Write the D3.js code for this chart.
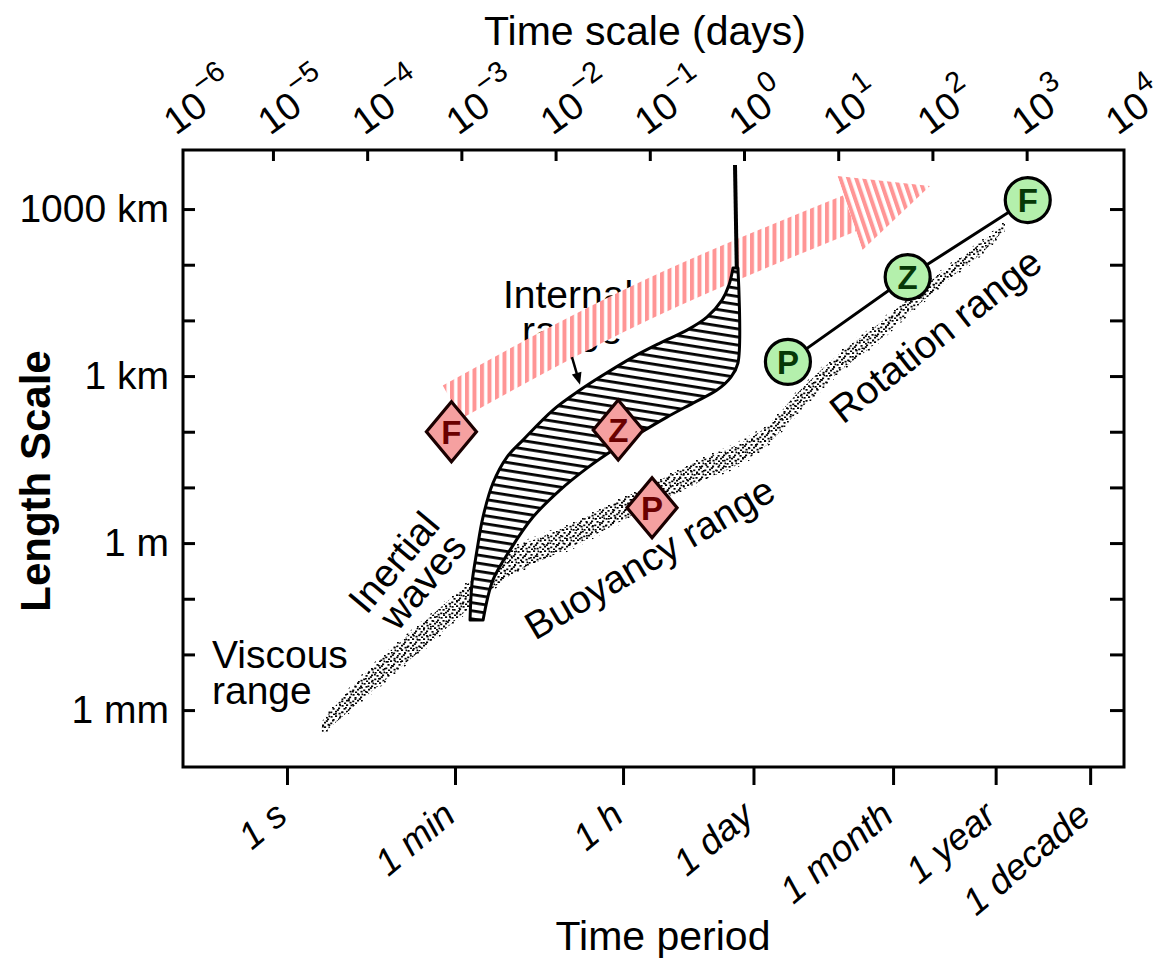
<!DOCTYPE html>
<html><head><meta charset="utf-8">
<script src="https://cdn.jsdelivr.net/npm/d3@7"></script>
<style>
html,body{margin:0;padding:0;background:#fff;}
svg{display:block;}
text{font-family:"Liberation Sans",Arial,Helvetica,sans-serif;fill:#000;}
</style></head><body>
<svg id="chart" width="1163" height="960"></svg>
<script>
// ================= DATA =================
// axis extents
const timeDomainSec = [0.0794, 7.2e8];      // bottom axis, period in seconds
const daysDomain = [1.11e-6, 1.08e4];        // top axis, days
const lengthDomainM = [9.5e-5, 1.15e7];      // length in metres

// tick labels
const bottomTickLabels = ["1 s", "1 min", "1 h", "1 day", "1 month", "1 year", "1 decade"];
const bottomTickSeconds = [1, 60, 3600, 86400, 2.592e6, 3.156e7, 3.156e8];
const topTickDays = [1e-6, 1e-5, 1e-4, 1e-3, 1e-2, 1e-1, 1e0, 1e1, 1e2, 1e3, 1e4];
const topTickExponents = ["\u22126", "\u22125", "\u22124", "\u22123", "\u22122", "\u22121", "0", "1", "2", "3", "4"];
const lengthTickValues = [1e-3, 1e-2, 1e-1, 1e0, 1e1, 1e2, 1e3, 1e4, 1e5, 1e6];
const lengthTickLabelValues = [1e-3, 1e0, 1e3, 1e6];
const lengthTickLabels = ["1 mm", "1 m", "1 km", "1000 km"];

// red diamonds
const redLabels = ["F", "Z", "P"];
const redPeriodSec = [55, 3200, 7300];
const redLengthM = [100, 107, 4.3];

// green circles (connected)
const greenLabels = ["P", "Z", "F"];
const greenPeriodSec = [2.0e5, 3.7e6, 6.9e7];
const greenLengthM = [1800, 6.0e4, 1.45e6];

// stippled band (viscous -> buoyancy -> rotation), centre line + half thickness (decades of length)
const bandPeriodSec = [2.34, 5.92, 15.7, 35.1, 80.4, 141, 259, 537, 1117, 2051, 4581, 10500, 23440, 55080, 114300, 268500, 711200, 1.589e6, 4.207e6, 1.038e7, 2.432e7, 3.963e7];
const bandLengthM = [4.75e-4, 2.29e-3, 9.73e-3, 0.031, 0.107, 0.235, 0.495, 0.847, 1.45, 2.48, 5.02, 10.1, 19.6, 36.6, 80.2, 371, 1782, 5012, 21330, 73790, 225400, 494300];
const bandHalfDecades = [0.12, 0.2, 0.23, 0.23, 0.23, 0.22, 0.22, 0.21, 0.2, 0.2, 0.19, 0.19, 0.19, 0.18, 0.17, 0.17, 0.16, 0.15, 0.13, 0.11, 0.09, 0.05];

// internal wave range (hatched): left/upper edge bottom->top, right/lower edge top->bottom
const hatchLeftPeriodSec = [86.5, 90.8, 102.6, 118.6, 151.4, 212.8, 314, 653, 1262, 2051, 4581, 8851, 17100, 27800, 40090, 47530, 52480];
const hatchLeftLengthM = [0.0414, 0.191, 0.748, 2.93, 12.0, 35.1, 70.8, 245, 560, 959, 2193, 3917, 6699, 11480, 23170, 43060, 87100];
const hatchRightPeriodSec = [59160, 59160, 49890, 35480, 19770, 10500, 5433, 2818, 1496, 774, 401, 229, 151, 119];
const hatchRightLengthM = [87100, 1710, 959, 560, 327, 183, 94.6, 46.9, 22.2, 8.95, 2.93, 0.748, 0.216, 0.0414];
// inertial limit line
const inertialPeriodSec = [55080, 57500];
const inertialLengthM = [6.2e6, 87100];

// big pink arrow: shaft start, shaft middle, head base, tip
const arrowPeriodSec = [55.7, 5433, 9.08e5, 6.37e6];
const arrowLengthM = [341, 20470, 8.47e5, 2.59e6];
// small pointer arrow under "Internal range"
const pointerPeriodSec = [1037, 1262];
const pointerLengthM = [2193, 700];

// ================= CHART =================
const svg = d3.select("#chart");
const L = 183, R = 1124, T = 150, B = 767;

const x = d3.scaleLog().domain(timeDomainSec).range([L, R]);
const xTop = d3.scaleLog().domain(daysDomain).range([L, R]);
const y = d3.scaleLog().domain(lengthDomainM).range([B, T]);

const defs = svg.append("defs");
// stipple patterns (dense core, sparse fringe)
const stip = defs.append("pattern").attr("id", "stipple").attr("patternUnits", "userSpaceOnUse")
  .attr("width", 11).attr("height", 11);
[[0.5,1],[5,0.3],[2.5,4],[8,3.5],[0.2,7.5],[5,6.8],[8.5,8.8],[3,9.5],[9.5,0.5],[6.8,5.2]].forEach(p =>
  stip.append("rect").attr("x", p[0]).attr("y", p[1]).attr("width", 2.1).attr("height", 1.7).attr("fill", "#000"));
const stip2 = defs.append("pattern").attr("id", "stipple2").attr("patternUnits", "userSpaceOnUse")
  .attr("width", 13).attr("height", 13);
[[1,2],[7,5],[3.5,9.5],[10,11]].forEach(p =>
  stip2.append("rect").attr("x", p[0]).attr("y", p[1]).attr("width", 1.8).attr("height", 1.5).attr("fill", "#000"));
// hatch pattern
const hatch = defs.append("pattern").attr("id", "hatch").attr("patternUnits", "userSpaceOnUse")
  .attr("width", 40).attr("height", 8).attr("patternTransform", "rotate(9)");
hatch.append("rect").attr("width", 40).attr("height", 8).attr("fill", "#fff");
hatch.append("rect").attr("y", 0).attr("width", 40).attr("height", 2.8).attr("fill", "#000");
// pink stripes
const stripes = defs.append("pattern").attr("id", "stripes").attr("patternUnits", "userSpaceOnUse")
  .attr("width", 7.5).attr("height", 10);
stripes.append("rect").attr("width", 7.5).attr("height", 10).attr("fill", "#fff");
stripes.append("rect").attr("width", 4).attr("height", 10).attr("fill", "#ff9595");

// ---- axes ----
const gB = svg.append("g").attr("transform", `translate(0,${B})`)
  .call(d3.axisBottom(x).tickValues(bottomTickSeconds).tickSize(18).tickFormat((d, i) => bottomTickLabels[i]));
gB.select(".domain").remove();
gB.selectAll(".tick line").attr("stroke", "#000").attr("stroke-width", 3);
gB.selectAll(".tick text")
  .attr("x", null).attr("y", null).attr("dy", null)
  .attr("text-anchor", "end")
  .attr("transform", "translate(2,52) rotate(-40)")
  .style("font-size", "37px").style("font-style", "italic")
  .style("font-family", '"Liberation Sans",Arial,sans-serif').attr("fill", "#000");

const gT = svg.append("g").attr("transform", `translate(0,${T})`)
  .call(d3.axisTop(xTop).tickValues(topTickDays.slice(1, -1)).tickSize(-11).tickFormat(""));
gT.select(".domain").remove();
gT.selectAll(".tick line").attr("stroke", "#000").attr("stroke-width", 3);

const topLab = svg.append("g").selectAll("text").data(topTickDays).join("text")
  .attr("text-anchor", "start")
  .attr("transform", d => `translate(${xTop(d) - 3},${T - 14}) rotate(-36)`)
  .style("font-size", "38px");
topLab.append("tspan").text("10");
topLab.append("tspan").attr("dy", -19).attr("dx", 2).style("font-size", "29px").text((d, i) => topTickExponents[i]);

const gL = svg.append("g").attr("transform", `translate(${L},0)`)
  .call(d3.axisLeft(y).tickValues(lengthTickValues).tickSize(-12).tickPadding(14)
    .tickFormat(d => { const k = lengthTickLabelValues.indexOf(d); return k >= 0 ? lengthTickLabels[k] : ""; }));
gL.select(".domain").remove();
gL.selectAll(".tick line").attr("stroke", "#000").attr("stroke-width", 3);
gL.selectAll(".tick text").style("font-size", "39px")
  .style("font-family", '"Liberation Sans",Arial,sans-serif').attr("fill", "#000");

const gR = svg.append("g").attr("transform", `translate(${R},0)`)
  .call(d3.axisRight(y).tickValues(lengthTickValues).tickSize(-14).tickFormat(""));
gR.select(".domain").remove();
gR.selectAll(".tick line").attr("stroke", "#000").attr("stroke-width", 3);

// frame
svg.append("rect").attr("x", L).attr("y", T).attr("width", R - L).attr("height", B - T)
  .attr("fill", "none").attr("stroke", "#000").attr("stroke-width", 3);

// titles
svg.append("text").attr("x", 645).attr("y", 45).attr("text-anchor", "middle").style("font-size", "41px").text("Time scale (days)");
svg.append("text").attr("x", 663).attr("y", 950).attr("text-anchor", "middle").style("font-size", "41px").text("Time period");
svg.append("text").attr("transform", "translate(50,481) rotate(-90)").attr("text-anchor", "middle")
  .style("font-size", "42px").style("font-weight", "bold").text("Length Scale");

// ---- stippled band ----
const lineGen = d3.line().curve(d3.curveCatmullRom.alpha(0.5));
function bandPath(extra) {
  const up = bandPeriodSec.map((p, i) => [x(p), y(bandLengthM[i] * Math.pow(10, bandHalfDecades[i] + extra))]);
  const lo = bandPeriodSec.map((p, i) => [x(p), y(bandLengthM[i] / Math.pow(10, bandHalfDecades[i] + extra))]).reverse();
  return lineGen(up) + "L" + lineGen(lo).slice(1) + "Z";
}
svg.append("path").attr("d", bandPath(0.05)).attr("fill", "url(#stipple2)");
svg.append("path").attr("d", bandPath(0)).attr("fill", "url(#stipple)");

// ---- annotation text ----
const txt = (s, tx, ty, rot, anchor) => svg.append("text")
  .attr("transform", `translate(${tx},${ty}) rotate(${rot})`)
  .attr("text-anchor", anchor || "start").style("font-size", "39px").text(s);
txt("Viscous", 212, 668, 0);
txt("range", 212, 704, 0);
txt("Inertial", 404, 571, -50, "middle");
txt("waves", 433, 590, -50, "middle");
txt("Buoyancy range", 535, 641, -30.5);
txt("Rotation range", 843, 425, -38);
txt("Internal", 503, 308, 0);
txt("range", 522, 344, 0);

// ---- pink arrow (curved shaft + head) ----
(function () {
  const pts = arrowPeriodSec.map((p, i) => [x(p), y(arrowLengthM[i])]);
  svg.append("path").attr("d", d3.line().curve(d3.curveNatural)(pts.slice(0, 3)))
    .attr("fill", "none").attr("stroke", "url(#stripes)").attr("stroke-width", 38).attr("stroke-linecap", "butt");
  const [bx, by] = pts[2], [tx, ty] = pts[3];
  const ang = Math.atan2(ty - by, tx - bx) * 180 / Math.PI, hl = Math.hypot(tx - bx, ty - by), hw = 39;
  svg.append("path").attr("transform", `translate(${bx},${by}) rotate(${ang})`)
    .attr("d", `M0,${-hw}L${hl},0L0,${hw}Z`).attr("fill", "url(#stripes)");
})();

// ---- hatched internal wave range ----
const hatchLeft = hatchLeftPeriodSec.map((p, i) => [x(p), y(hatchLeftLengthM[i])]);
const hatchRight = hatchRightPeriodSec.map((p, i) => [x(p), y(hatchRightLengthM[i])]);
svg.append("path").attr("d", lineGen(hatchLeft) + "L" + lineGen(hatchRight).slice(1) + "Z")
  .attr("fill", "url(#hatch)").attr("stroke", "#000").attr("stroke-width", 3).attr("stroke-linejoin", "round");
svg.append("path").attr("d", d3.line()(inertialPeriodSec.map((p, i) => [x(p), y(inertialLengthM[i])])))
  .attr("stroke", "#000").attr("stroke-width", 4).attr("fill", "none");

// ---- small pointer ----
(function () {
  const x0 = x(pointerPeriodSec[0]), y0 = y(pointerLengthM[0]);
  const x1 = x(pointerPeriodSec[1]), y1 = y(pointerLengthM[1]);
  const ang = Math.atan2(y1 - y0, x1 - x0) * 180 / Math.PI, len = Math.hypot(x1 - x0, y1 - y0);
  const g = svg.append("g").attr("transform", `translate(${x0},${y0}) rotate(${ang})`);
  g.append("line").attr("x1", 0).attr("x2", len - 8).attr("stroke", "#000").attr("stroke-width", 2.5);
  g.append("path").attr("d", `M${len},0L${len - 12},-5L${len - 12},5Z`).attr("fill", "#000");
})();

// ---- red diamonds ----
const redG = svg.append("g").selectAll("g").data(redLabels).join("g")
  .attr("transform", (d, i) => `translate(${x(redPeriodSec[i])},${y(redLengthM[i])})`);
redG.append("path").attr("d", "M0,-30L25,0L0,30L-25,0Z")
  .attr("fill", "#f5a0a0").attr("stroke", "#1a0000").attr("stroke-width", 3.2).attr("stroke-linejoin", "miter");
redG.append("text").attr("text-anchor", "middle").attr("y", 12).style("font-size", "33px")
  .style("font-weight", "bold").style("fill", "#6a0000").text(d => d);

// ---- green circles ----
const gPts = greenPeriodSec.map((p, i) => [x(p), y(greenLengthM[i])]);
svg.append("path").attr("d", d3.line()(gPts)).attr("stroke", "#000").attr("stroke-width", 3).attr("fill", "none");
const grG = svg.append("g").selectAll("g").data(greenLabels).join("g")
  .attr("transform", (d, i) => `translate(${gPts[i][0]},${gPts[i][1]})`);
grG.append("circle").attr("r", 22.5).attr("fill", "#b4f0ac").attr("stroke", "#000").attr("stroke-width", 3.2);
grG.append("text").attr("text-anchor", "middle").attr("y", 12).style("font-size", "33px")
  .style("font-weight", "bold").style("fill", "#063806").text(d => d);
</script>
</body></html>
